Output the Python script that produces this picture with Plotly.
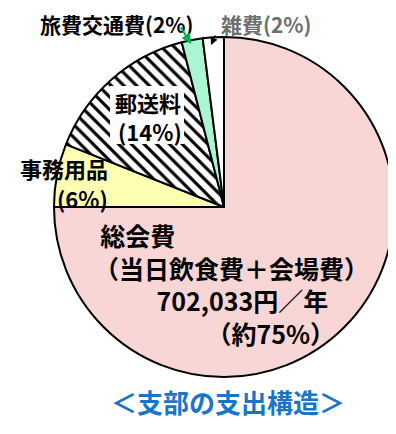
import plotly.graph_objects as go

categories = ["総会費", "事務用品", "郵送料", "旅費交通費", "雑費"]
shares = [75, 6, 15, 2, 2]
fill_colors = ["#FFFFFF", "#FFFFB3", "#FFFFFF", "#AAF5D2", "#FFFFFF"]
pattern_shapes = [".", "", "\\", "", ""]
pattern_fg = ["#F29A9A", "#FFFFB3", "#000000", "#AAF5D2", "#FFFFFF"]

# page body has an 8px margin; the figure is sized/placed to compensate
OFF = 8
W, H = 396 - OFF, 434 - OFF
FONT = "Noto Sans CJK JP"

def px(x):
    return (x - OFF) / W

def py(y):
    return 1 - (y - OFF) / H

cx, cy, r = 224, 207, 170

fig = go.Figure(go.Pie(
    labels=categories,
    values=shares,
    sort=False,
    direction="clockwise",
    rotation=0,
    textinfo="none",
    hoverinfo="label+percent",
    showlegend=False,
    marker=dict(
        colors=fill_colors,
        line=dict(color="#000000", width=2),
        pattern=dict(shape=pattern_shapes, fgcolor=pattern_fg, bgcolor=fill_colors,
                     size=[2, 8, 9, 8, 8], solidity=[0.45, 0.3, 0.35, 0.3, 0.3],
                     fillmode="replace"),
    ),
    domain=dict(x=[px(cx - r), px(cx + r)], y=[py(cy + r), py(cy - r)]),
))

def label(text, x, y, size=22, color="#000000", weight="bold",
          xanchor="center", align="center"):
    return dict(text=text, x=px(x), y=py(y), xref="paper", yref="paper",
                xanchor=xanchor, yanchor="middle", align=align, showarrow=False,
                font=dict(family=FONT, size=size, color=color, weight=weight))

EM = "\u3000"
EN = "\u2002"
QS = "\u2005"
main_text = "<br>".join([
    QS + "総会費",
    "（当日飲食費＋会場費）",
    EM * 2 + EN + "702,033円／年",
    EM * 4 + EN + "（約75%）",
])

annotations = [
    label("旅費交通費(2%)", 117, 24, 21),
    label("雑費(2%)", 266, 24, 21, color="#6E6E6E"),
    label("郵送料", 148, 102, 22),
    label("(14%)", 150, 131, 22),
    label("事務用品", 110, 168, 22, xanchor="right"),
    label("(6%)", 110, 198, 22, xanchor="right"),
    label(main_text, 92, 284, 25, xanchor="left", align="left"),
    label("＜支部の支出構造＞", 228, 401, 26, color="#1A75C9"),
    # arrows
    dict(x=px(191), y=py(44), xref="paper", yref="paper", text="",
         showarrow=True, arrowhead=2, arrowsize=1, arrowwidth=2, arrowcolor="#00B050",
         ax=-11, ay=-18, axref="pixel", ayref="pixel", standoff=0),
    dict(x=px(211), y=py(45), xref="paper", yref="paper", text="",
         showarrow=True, arrowhead=2, arrowsize=1, arrowwidth=1.5, arrowcolor="#000000",
         ax=5, ay=-11, axref="pixel", ayref="pixel", standoff=0),
]

# white box behind the 郵送料 label (as in the reference)
shapes = [dict(type="rect", xref="paper", yref="paper",
               x0=px(110), x1=px(184), y0=py(144), y1=py(86),
               fillcolor="#FFFFFF", line=dict(width=0), layer="above")]

fig.update_layout(
    width=W, height=H,
    margin=dict(l=0, r=0, t=0, b=0),
    paper_bgcolor="#FFFFFF",
    plot_bgcolor="#FFFFFF",
    annotations=annotations,
    shapes=shapes,
)

fig.write_html("out.html")
